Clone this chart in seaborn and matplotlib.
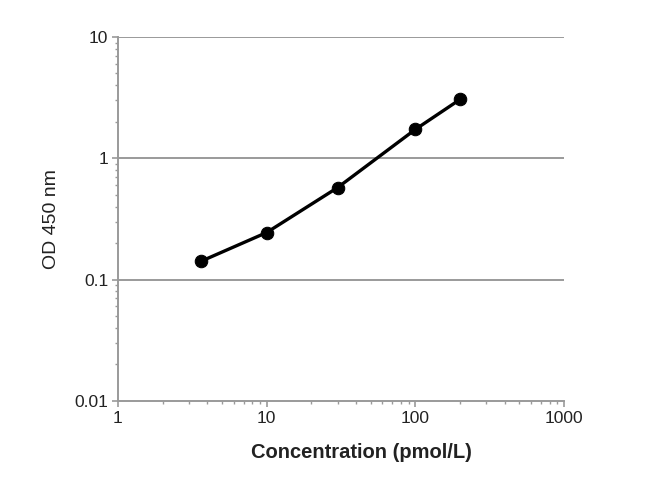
import matplotlib
matplotlib.use("Agg")
import matplotlib.pyplot as plt
import matplotlib.ticker as mticker
import seaborn as sns
import pandas as pd

# standard curve values
concentration = [3.6, 10, 30, 100, 200]
od_450 = [0.141, 0.244, 0.573, 1.73, 3.06]

y_ticks = [0.01, 0.1, 1, 10]
y_tick_labels = ["0.01", "0.1", "1", "10"]
x_ticks = [1, 10, 100, 1000]
x_tick_labels = ["1", "10", "100", "1000"]

sns.set_theme(style="white")
plt.rcParams["font.family"] = ["Liberation Sans", "DejaVu Sans"]

df = pd.DataFrame({"conc": concentration, "od": od_450})

fig = plt.figure(figsize=(6.7, 4.8), dpi=100)
ax = fig.add_axes([0.176, 0.165, 0.666, 0.758])

grid_color = "#9a9a9a"
for yv in y_ticks[1:]:
    ax.axhline(yv, color=grid_color, lw=1.4, zorder=0)

sns.lineplot(data=df, x="conc", y="od", ax=ax, color="black", lw=2.4,
             marker="o", markersize=9, markeredgecolor="black", zorder=3)

ax.set_xscale("log")
ax.set_yscale("log")
ax.set_xlim(1, 1000)
ax.set_ylim(0.01, 10)

ax.set_xticks(x_ticks)
ax.set_xticklabels(x_tick_labels)
ax.set_yticks(y_ticks)
ax.set_yticklabels(y_tick_labels)
ax.xaxis.set_minor_locator(mticker.LogLocator(base=10, subs=range(2, 10)))
ax.yaxis.set_minor_locator(mticker.LogLocator(base=10, subs=range(2, 10)))
ax.xaxis.set_minor_formatter(mticker.NullFormatter())
ax.yaxis.set_minor_formatter(mticker.NullFormatter())

ax.tick_params(axis="both", which="major", direction="out", length=4, width=1.2,
               color=grid_color, labelsize=12.5, labelcolor="#222222", pad=3,
               bottom=True, left=True)
ax.tick_params(axis="both", which="minor", direction="out", length=2.5, width=1.0,
               color=grid_color, bottom=True, left=True)

for side in ["top", "right"]:
    ax.spines[side].set_visible(False)
for side in ["left", "bottom"]:
    ax.spines[side].set_color(grid_color)
    ax.spines[side].set_linewidth(1.4)

ax.set_xlabel("Concentration (pmol/L)", fontsize=14.5, fontweight="bold",
              color="#222222")
ax.xaxis.set_label_coords(0.545, -0.115)
ax.set_ylabel("OD 450 nm", fontsize=14, color="#222222", labelpad=10)

fig.savefig("out.png", dpi=100)
